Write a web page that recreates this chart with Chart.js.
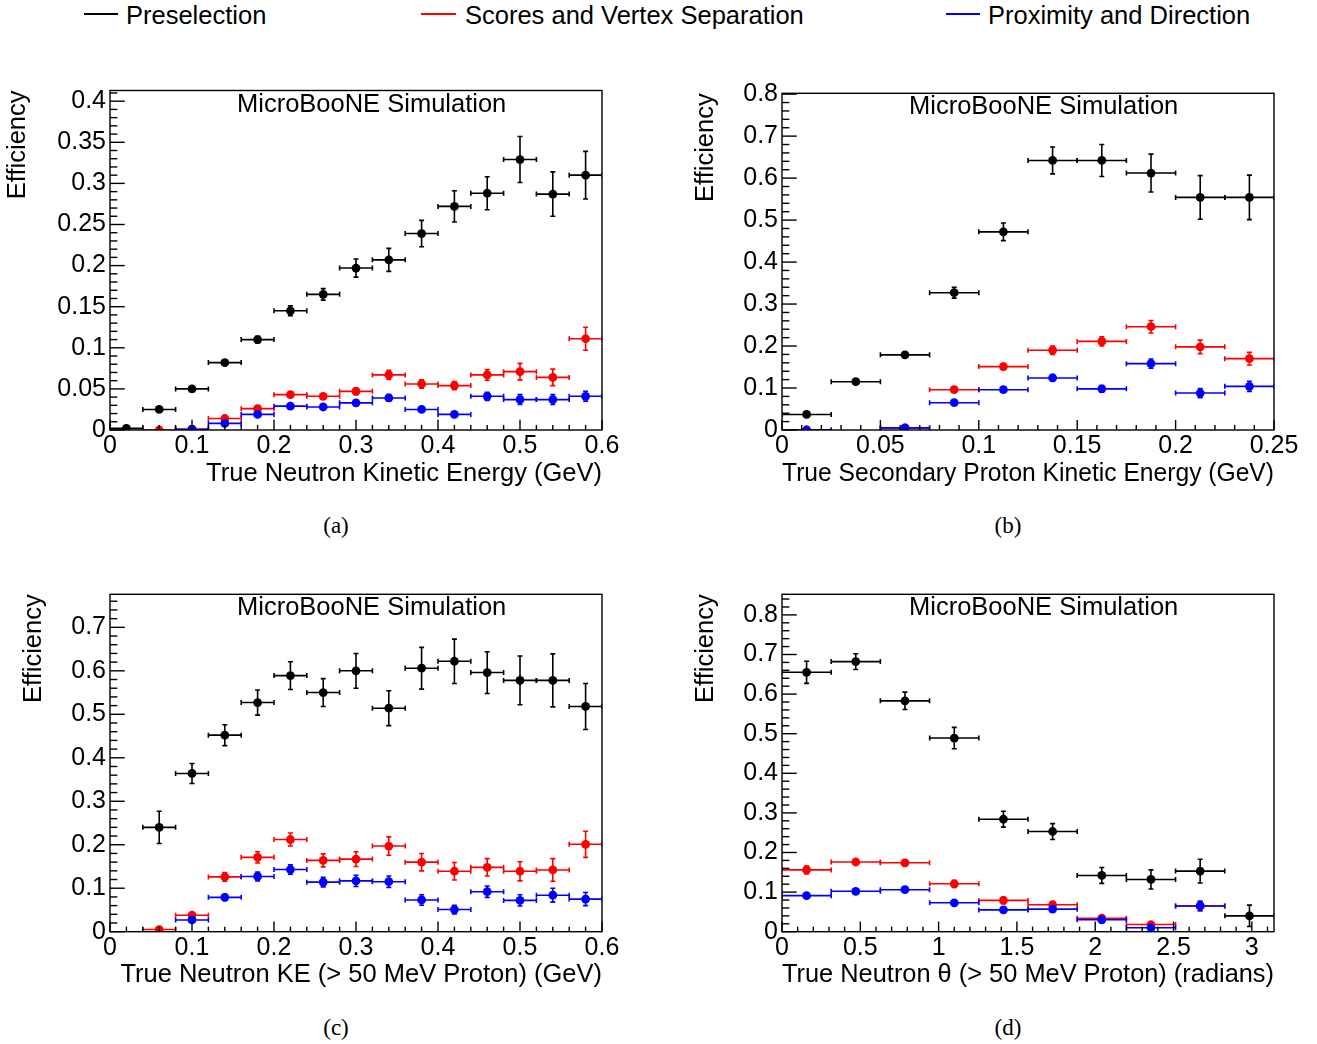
<!DOCTYPE html>
<html>
<head>
<meta charset="utf-8">
<script src="https://cdn.jsdelivr.net/npm/chart.js@4.4.1/dist/chart.umd.min.js"></script>
<style>
  body { margin: 0; background: #fff; width: 1317px; height: 1044px; position: relative; overflow: hidden;
         font-family: "Liberation Sans", Arial, sans-serif; }
  canvas { position: absolute; }
  .legline { position: absolute; top: 13px; height: 2px; }
  .legtext { position: absolute; top: 1px; font-size: 25.5px; line-height: 28px; color: #000; white-space: nowrap; }
  .sub { position: absolute; width: 80px; margin-left: -40px; text-align: center;
         font-family: "Liberation Serif", serif; font-size: 23px; color: #000; }
</style>
</head>
<body>
<div class="legline" style="left:84px;width:34px;background:#000"></div>
<div class="legtext" style="left:126px">Preselection</div>
<div class="legline" style="left:421px;width:35px;background:#f00"></div>
<div class="legtext" style="left:465px">Scores and Vertex Separation</div>
<div class="legline" style="left:946px;width:34px;background:#00f"></div>
<div class="legtext" style="left:988px">Proximity and Direction</div>

<canvas id="cA" width="660" height="470" style="left:0;top:40px"></canvas>
<canvas id="cB" width="645" height="470" style="left:672px;top:40px"></canvas>
<canvas id="cC" width="660" height="470" style="left:0;top:545px"></canvas>
<canvas id="cD" width="645" height="470" style="left:672px;top:545px"></canvas>

<div class="sub" style="left:336px;top:513px">(a)</div>
<div class="sub" style="left:1008px;top:513px">(b)</div>
<div class="sub" style="left:336px;top:1015px">(c)</div>
<div class="sub" style="left:1008px;top:1015px">(d)</div>

<script>
// ---- data ----
// (a) true neutron kinetic energy, bins of 0.04 GeV
const keCenters = [0.02, 0.06, 0.10, 0.14, 0.18, 0.22, 0.26, 0.30, 0.34, 0.38, 0.42, 0.46, 0.50, 0.54, 0.58];
const keHalfBin = 0.02;
const aPre      = [0.002, 0.025, 0.050, 0.082, 0.110, 0.145, 0.165, 0.197, 0.207, 0.239, 0.272, 0.288, 0.329, 0.287, 0.310];
const aPreErr   = [0.001, 0.002, 0.003, 0.003, 0.004, 0.006, 0.007, 0.011, 0.014, 0.016, 0.019, 0.020, 0.028, 0.027, 0.029];
const aScore    = [null, 0.000, 0.001, 0.014, 0.026, 0.043, 0.041, 0.047, 0.067, 0.056, 0.054, 0.067, 0.071, 0.064, 0.111];
const aScoreErr = [null, 0.001, 0.001, 0.002, 0.003, 0.003, 0.003, 0.004, 0.0055, 0.005, 0.005, 0.0065, 0.010, 0.010, 0.014];
const aProx     = [null, null, 0.001, 0.008, 0.019, 0.029, 0.028, 0.033, 0.039, 0.025, 0.019, 0.041, 0.037, 0.037, 0.041];
const aProxErr  = [null, null, 0.001, 0.002, 0.002, 0.003, 0.002, 0.003, 0.004, 0.003, 0.002, 0.005, 0.006, 0.006, 0.006];

// (b) true secondary proton kinetic energy, bins of 0.025 GeV
const pkeCenters = [0.0125, 0.0375, 0.0625, 0.0875, 0.1125, 0.1375, 0.1625, 0.1875, 0.2125, 0.2375];
const pkeHalfBin = 0.0125;
const bPre      = [0.037, 0.115, 0.179, 0.327, 0.472, 0.642, 0.642, 0.612, 0.554, 0.554];
const bPreErr   = [0.003, 0.004, 0.005, 0.013, 0.021, 0.032, 0.038, 0.045, 0.052, 0.053];
const bScore    = [0.000, null, 0.005, 0.096, 0.151, 0.190, 0.211, 0.246, 0.198, 0.170];
const bScoreErr = [0.001, null, 0.002, 0.004, 0.007, 0.010, 0.011, 0.015, 0.016, 0.015];
const bProx     = [0.000, null, 0.005, 0.065, 0.096, 0.124, 0.098, 0.158, 0.088, 0.104];
const bProxErr  = [0.001, null, 0.002, 0.004, 0.005, 0.008, 0.008, 0.011, 0.011, 0.012];

// (c) true neutron KE with > 50 MeV proton, same binning as (a)
const cPre      = [null, 0.240, 0.364, 0.452, 0.527, 0.589, 0.550, 0.600, 0.514, 0.606, 0.622, 0.596, 0.578, 0.578, 0.518];
const cPreErr   = [null, 0.037, 0.023, 0.024, 0.029, 0.032, 0.032, 0.040, 0.040, 0.048, 0.051, 0.048, 0.056, 0.061, 0.053];
const cScore    = [null, 0.005, 0.038, 0.126, 0.171, 0.212, 0.164, 0.167, 0.197, 0.160, 0.139, 0.148, 0.139, 0.142, 0.201];
const cScoreErr = [null, 0.003, 0.005, 0.010, 0.013, 0.015, 0.015, 0.017, 0.021, 0.020, 0.020, 0.020, 0.022, 0.026, 0.030];
const cProx     = [null, null, 0.027, 0.079, 0.127, 0.143, 0.114, 0.117, 0.115, 0.073, 0.051, 0.092, 0.072, 0.084, 0.075];
const cProxErr  = [null, null, 0.004, 0.007, 0.010, 0.011, 0.011, 0.013, 0.013, 0.012, 0.010, 0.013, 0.013, 0.016, 0.015];

// (d) true neutron theta, 10 bins from 0 to pi
const thCenters = [0.157, 0.471, 0.785, 1.100, 1.414, 1.728, 2.042, 2.356, 2.670, 2.985];
const thHalfBin = 0.157;
const dPre      = [0.655, 0.682, 0.583, 0.489, 0.284, 0.253, 0.142, 0.132, 0.153, 0.040];
const dPreErr   = [0.028, 0.020, 0.022, 0.027, 0.020, 0.020, 0.020, 0.024, 0.030, 0.027];
const dScore    = [0.156, 0.176, 0.174, 0.121, 0.079, 0.068, 0.034, 0.018, 0.065, null];
const dScoreErr = [0.010, 0.005, 0.007, 0.009, 0.008, 0.008, 0.005, 0.004, 0.012, null];
const dProx     = [0.091, 0.102, 0.106, 0.073, 0.055, 0.057, 0.030, 0.010, 0.065, null];
const dProxErr  = [0.005, 0.004, 0.004, 0.004, 0.004, 0.005, 0.004, 0.003, 0.012, null];

const FONT = 'Liberation Sans, Arial, sans-serif';

function points(centers, half, vals, errs) {
    const out = [];
    vals.forEach((v, i) => {
        if (v === null) return;
        out.push({ x: centers[i], y: v, xErr: half, yErr: errs[i] });
    });
    return out;
}

// ROOT-like look: error bars with small end caps, inward ticks, frame, label
const rootStyle = {
    id: 'rootStyle',
    beforeDatasetDraw(chart, args) {
        const ds = chart.data.datasets[args.index];
        const { ctx, chartArea: a, scales: { x, y } } = chart;
        ctx.save();
        ctx.beginPath();
        ctx.rect(a.left, a.top, a.right - a.left, a.bottom - a.top);
        ctx.clip();
        ctx.strokeStyle = ds.backgroundColor;
        ctx.lineWidth = 1.6;
        const c = 2.5;
        ds.data.forEach(p => {
            const px = x.getPixelForValue(p.x), py = y.getPixelForValue(p.y);
            const x0 = x.getPixelForValue(p.x - p.xErr), x1 = x.getPixelForValue(p.x + p.xErr);
            const y0 = y.getPixelForValue(p.y - p.yErr), y1 = y.getPixelForValue(p.y + p.yErr);
            ctx.beginPath();
            ctx.moveTo(x0, py); ctx.lineTo(x1, py);
            ctx.moveTo(x0, py - c); ctx.lineTo(x0, py + c);
            ctx.moveTo(x1, py - c); ctx.lineTo(x1, py + c);
            ctx.moveTo(px, y0); ctx.lineTo(px, y1);
            ctx.moveTo(px - c, y0); ctx.lineTo(px + c, y0);
            ctx.moveTo(px - c, y1); ctx.lineTo(px + c, y1);
            ctx.stroke();
        });
        ctx.restore();
    },
    afterDraw(chart, args, opts) {
        const { ctx, chartArea: a, scales: { x, y } } = chart;
        const w = a.right - a.left, h = a.bottom - a.top;
        ctx.save();
        ctx.strokeStyle = '#000';
        ctx.lineWidth = 1.4;
        ctx.strokeRect(a.left, a.top, w, h);

        // y ticks (inside, left side)
        const yMinor = opts.yStep / 5;
        for (let k = 0; k * yMinor <= y.max + 1e-9; k++) {
            const py = y.getPixelForValue(k * yMinor);
            const len = (k % 5 === 0 ? 0.03 : 0.015) * w;
            ctx.beginPath(); ctx.moveTo(a.left, py); ctx.lineTo(a.left + len, py); ctx.stroke();
        }
        // x ticks (inside, bottom side)
        const xMinor = opts.xStep / 5;
        for (let k = 0; k * xMinor <= x.max + 1e-9; k++) {
            const px = x.getPixelForValue(k * xMinor);
            const len = (k % 5 === 0 ? 0.03 : 0.015) * h;
            ctx.beginPath(); ctx.moveTo(px, a.bottom); ctx.lineTo(px, a.bottom - len); ctx.stroke();
        }

        ctx.fillStyle = '#000';
        ctx.font = '25.5px ' + FONT;
        ctx.textAlign = 'left';
        ctx.textBaseline = 'middle';
        ctx.fillText('MicroBooNE Simulation', a.left + 127, a.top + 14);
        ctx.restore();
    }
};

// labelled ticks only at whole multiples of the step
function stepTicks(scale, step) {
    const out = [];
    for (let k = 0; k * step <= scale.max + 1e-9; k++) {
        out.push({ value: Math.round(k * step * 1e6) / 1e6 });
    }
    scale.ticks = out;
}

function makePanel(id, cfg) {
    const fmt = v => String(Math.round(v * 1000) / 1000);
    const series = [
        { data: cfg.pre, color: '#000000', order: 3 },
        { data: cfg.score, color: '#ff0000', order: 2 },
        { data: cfg.prox, color: '#0000ff', order: 1 }
    ];
    new Chart(document.getElementById(id), {
        type: 'scatter',
        data: {
            datasets: series.map(s => ({
                data: s.data,
                backgroundColor: s.color,
                borderColor: s.color,
                pointRadius: 4.4,
                pointBorderWidth: 0,
                order: s.order
            }))
        },
        options: {
            responsive: false,
            animation: false,
            devicePixelRatio: 1,
            events: [],
            layout: { padding: { left: 0, top: cfg.padTop, right: cfg.padRight, bottom: cfg.padBottom } },
            plugins: {
                legend: { display: false },
                tooltip: { enabled: false },
                rootStyle: { xStep: cfg.xStep, yStep: cfg.yStep }
            },
            scales: {
                x: {
                    type: 'linear', min: cfg.xMin, max: cfg.xMax,
                    border: { display: false },
                    grid: { display: false, drawTicks: false },
                    ticks: { autoSkip: false, maxRotation: 0, padding: 1,
                             color: '#000', font: { family: FONT, size: 25 }, callback: fmt },
                    afterBuildTicks: s => stepTicks(s, cfg.xStep),
                    afterFit: s => { s.height = 60; },
                    title: { display: true, text: cfg.xTitle, align: 'end', color: '#000',
                             font: { family: FONT, size: 25.5 }, padding: { top: 0, bottom: 1 } }
                },
                y: {
                    type: 'linear', min: 0, max: cfg.yMax,
                    border: { display: false },
                    grid: { display: false, drawTicks: false },
                    ticks: { autoSkip: false, padding: 4,
                             color: '#000', font: { family: FONT, size: 25 }, callback: fmt },
                    afterBuildTicks: s => stepTicks(s, cfg.yStep),
                    afterFit: s => { s.width = 110; },
                    title: { display: true, text: 'Efficiency', align: 'end', color: '#000',
                             font: { family: FONT, size: 25.5 }, padding: { top: cfg.yTitlePad, bottom: 0 } }
                }
            }
        },
        plugins: [rootStyle]
    });
}

makePanel('cA', {
    pre: points(keCenters, keHalfBin, aPre, aPreErr),
    score: points(keCenters, keHalfBin, aScore, aScoreErr),
    prox: points(keCenters, keHalfBin, aProx, aProxErr),
    xMin: 0, xMax: 0.6, xStep: 0.1, yMax: 0.413, yStep: 0.05,
    xTitle: 'True Neutron Kinetic Energy (GeV)', yTitlePad: 3,
    padTop: 50.5, padRight: 58, padBottom: 20
});
makePanel('cB', {
    pre: points(pkeCenters, pkeHalfBin, bPre, bPreErr),
    score: points(pkeCenters, pkeHalfBin, bScore, bScoreErr),
    prox: points(pkeCenters, pkeHalfBin, bProx, bProxErr),
    xMin: 0, xMax: 0.25, xStep: 0.05, yMax: 0.802, yStep: 0.1,
    xTitle: 'True Secondary Proton Kinetic Energy (GeV)', yTitlePad: 18.7,
    padTop: 53.3, padRight: 43, padBottom: 20
});
makePanel('cC', {
    pre: points(keCenters, keHalfBin, cPre, cPreErr),
    score: points(keCenters, keHalfBin, cScore, cScoreErr),
    prox: points(keCenters, keHalfBin, cProx, cProxErr),
    xMin: 0, xMax: 0.6, xStep: 0.1, yMax: 0.776, yStep: 0.1,
    xTitle: 'True Neutron KE (> 50 MeV Proton) (GeV)', yTitlePad: 18.7,
    padTop: 49.3, padRight: 58, padBottom: 23.3
});
makePanel('cD', {
    pre: points(thCenters, thHalfBin, dPre, dPreErr),
    score: points(thCenters, thHalfBin, dScore, dScoreErr),
    prox: points(thCenters, thHalfBin, dProx, dProxErr),
    xMin: 0, xMax: Math.PI, xStep: 0.5, yMax: 0.852, yStep: 0.1,
    xTitle: 'True Neutron θ (> 50 MeV Proton) (radians)', yTitlePad: 18.7,
    padTop: 49.3, padRight: 43, padBottom: 23.3
});
</script>
</body>
</html>
